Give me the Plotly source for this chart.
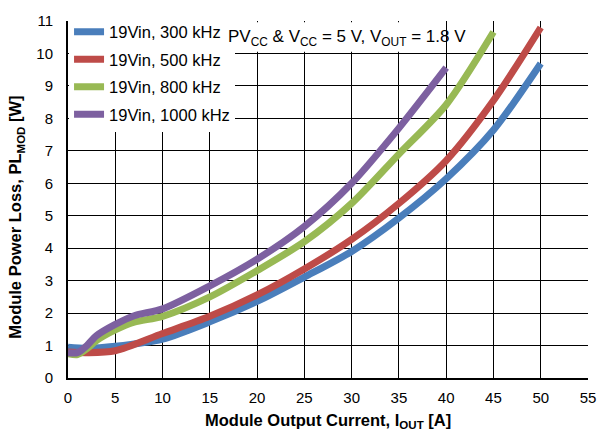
import plotly.graph_objects as go

# Data
x_300 = [0, 2, 5, 10, 15, 20, 25, 30, 35, 40, 45, 50]
y_300 = [0.95, 0.92, 0.98, 1.2, 1.73, 2.36, 3.11, 3.9, 4.93, 6.14, 7.64, 9.69]

x_500 = [0, 2, 5, 10, 15, 20, 25, 30, 35, 40, 45, 50]
y_500 = [0.8, 0.78, 0.84, 1.37, 1.9, 2.56, 3.36, 4.27, 5.38, 6.7, 8.55, 10.8]

x_800 = [0, 1, 2, 3, 5, 7, 10, 15, 20, 25, 30, 35, 40, 45]
y_800 = [0.75, 0.72, 0.9, 1.15, 1.48, 1.72, 1.9, 2.5, 3.31, 4.2, 5.38, 6.9, 8.42, 10.66]

x_1000 = [0, 1, 2, 3, 5, 7, 10, 15, 20, 25, 30, 35, 40]
y_1000 = [0.78, 0.78, 1.0, 1.3, 1.65, 1.92, 2.13, 2.84, 3.66, 4.67, 6.0, 7.7, 9.56]

names = ["19Vin, 300 kHz", "19Vin, 500 kHz", "19Vin, 800 kHz", "19Vin, 1000 kHz"]
colors = ["#4a7ebb", "#be4b48", "#98b954", "#7d60a0"]
xticks = list(range(0, 56, 5))
yticks = list(range(0, 12, 1))

series = [(x_300, y_300), (x_500, y_500), (x_800, y_800), (x_1000, y_1000)]

fig = go.Figure()
for i, ((xs, ys), n, c) in enumerate(zip(series, names, colors)):
    fig.add_trace(go.Scatter(
        x=xs, y=ys, mode="lines", name=n, legendgroup=f"g{i}",
        line=dict(color=c, width=7, shape="spline", smoothing=0.8),
    ))

font_family = "Liberation Sans, Arial, Helvetica, sans-serif"

fig.update_layout(
    width=609, height=433,
    margin=dict(l=68, r=21, t=15, b=55),
    paper_bgcolor="white", plot_bgcolor="white",
    font=dict(family=font_family, size=15, color="black"),
    showlegend=True,
    legend=dict(
        x=0.002, y=1.018, xanchor="left", yanchor="top",
        bgcolor="white", borderwidth=0,
        font=dict(size=16.5, color="black"),
        traceorder="grouped", tracegroupgap=3,
        itemwidth=30,
    ),
    xaxis=dict(
        range=[0, 55], tickvals=xticks, ticktext=[str(v) for v in xticks],
        showgrid=True, gridcolor="black", gridwidth=1,
        showline=True, linecolor="black", linewidth=2,
        zeroline=False, ticks="", tickfont=dict(size=15),
        ticklabelstandoff=5,
    ),
    yaxis=dict(
        range=[0, 11], tickvals=yticks, ticktext=[str(v) for v in yticks],
        showgrid=True, gridcolor="black", gridwidth=1,
        showline=True, linecolor="black", linewidth=2,
        zeroline=False, ticks="", tickfont=dict(size=15),
        ticklabelstandoff=10,
    ),
)

# white box behind the condition note (covers grid lines)
fig.add_shape(type="rect", xref="x", yref="y", x0=16.9, x1=39.4, y0=10.05, y1=10.96,
              fillcolor="white", line=dict(width=0), layer="between")

fig.add_annotation(
    xref="paper", yref="paper", x=(226 - 68) / 520, y=1 - (32 - 15) / 363,
    showarrow=False,
    text="PV<sub>CC</sub> & V<sub>CC</sub> = 5 V, V<sub>OUT</sub> = 1.8 V",
    font=dict(size=17), xanchor="left", yanchor="middle",
)

fig.add_annotation(
    xref="paper", yref="paper", x=0.5, y=-(422 - 378) / 363,
    text="<b>Module Output Current, I<sub>OUT</sub> [A]</b>",
    showarrow=False, font=dict(size=16.5), xanchor="center", yanchor="middle",
)
fig.add_annotation(
    xref="paper", yref="paper", x=-(68 - 16) / 520, y=1 - (215 - 15) / 363,
    text="<b>Module Power Loss, PL<sub>MOD</sub> [W]</b>",
    showarrow=False, font=dict(size=16.5), textangle=-90,
    xanchor="center", yanchor="middle",
)

fig.write_html("out.html")
